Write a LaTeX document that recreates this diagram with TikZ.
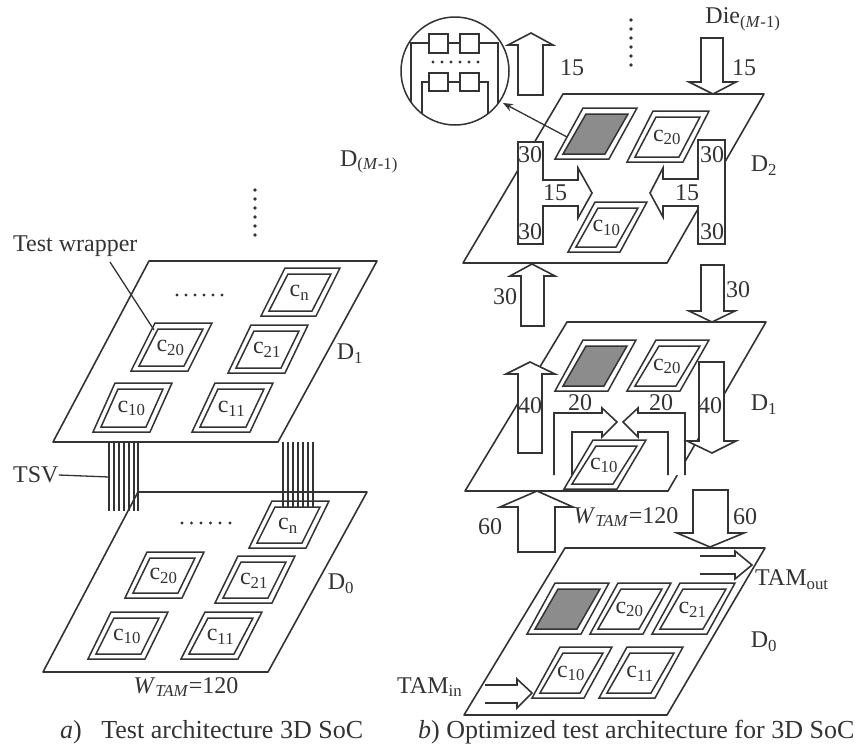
\documentclass[tikz,border=0pt]{standalone}
\usepackage{fontspec}
\setmainfont{Liberation Serif}
\usetikzlibrary{arrows.meta}
\definecolor{inkgray}{gray}{0.2}
\definecolor{corefill}{gray}{0.55}
\tikzset{
  lab/.style={inner sep=0pt,text=inkgray,font=\fontsize{24}{26}\selectfont},
  captext/.style={inner sep=0pt,text=inkgray,font=\fontsize{26}{28}\selectfont,anchor=west},
  chipline/.style={draw=inkgray,line width=1.5pt,line join=miter},
  plane/.style={draw=inkgray,line width=1.6pt,line join=round},
  block/.style={draw=inkgray,line width=1.6pt,fill=white,line join=miter},
  thin line/.style={draw=inkgray,line width=1.3pt},
  open block/.style={draw=inkgray,line width=1.6pt},
}
% fill, name, bottom left x, y, width, height, skew, label
\newcommand{\wrapchip}[8][white]{
  \draw[chipline,fill=white] (#3,#4)--++(#5,0)--++(#7,-#6)--++(-#5,0)--cycle;
  \draw[chipline,fill=#1] (#3+8,#4-5)--(#3+#5-4,#4-5)--(#3+#5+#7-9,#4-#6+6)--(#3+#7+3,#4-#6+6)--cycle;
  \node[lab] (#2) at (#3+#5/2+#7/2-1,#4-#6/2+1) {#8};
}
\begin{document}
\begin{tikzpicture}[x=1pt,y=-1pt]
\useasboundingbox (0,0) rectangle (865,747);

% left: upper die
\draw[plane] (149,261)--(377,261)--(278,442)--(53,442)--cycle;
\wrapchip{lcn}{261}{316}{55}{48}{24}{c\textsubscript{n}}
\wrapchip{lctwenty}{131}{371}{57}{48}{24}{c\textsubscript{20}}
\wrapchip{lctwentyone}{228}{373}{57}{48}{23}{c\textsubscript{21}}
\wrapchip{lcten}{93}{432}{57}{49}{22}{c\textsubscript{10}}
\wrapchip{lceleven}{192}{432}{58}{49}{23}{c\textsubscript{11}}
\foreach \x in {177,186,195,204,213,222} \fill[inkgray] (\x,295) circle (1.7);
\foreach \y in {190,199,208,217,226,235} \fill[inkgray] (255,\y) circle (1.8);

% left: lower die
\draw[plane] (138,492)--(367,492)--(268,672)--(43,672)--cycle;
\wrapchip{bcn}{249}{548}{57}{47}{23}{c\textsubscript{n}}
\wrapchip{bctwenty}{125}{598}{57}{46}{22}{c\textsubscript{20}}
\wrapchip{bctwentyone}{215}{603}{57}{47}{23}{c\textsubscript{21}}
\wrapchip{bcten}{88}{659}{57}{47}{23}{c\textsubscript{10}}
\wrapchip{bceleven}{181}{659}{57}{47}{24}{c\textsubscript{11}}
\foreach \x in {182,191.5,201,210.5,220,230} \fill[inkgray] (\x,523) circle (1.7);

% through silicon vias
\foreach \x in {109,114,119,124,129,134,138} \draw[thin line] (\x,442)--(\x,511);
\foreach \x in {283,288,293,298,303,308,313} \draw[thin line] (\x,442)--(\x,507);

\node[lab,anchor=west] (wrapper) at (13,246) {Test wrapper};
\coordinate (wrapperend) at (154,330);
\coordinate (wrapperstart) at (110,262);
\draw[thin line] (wrapperstart)--(wrapperend);
\node[lab,anchor=west] (tsv) at (13,475) {TSV};
\coordinate (tsvend) at (109,477);
\draw[thin line] (tsv.east)--(tsvend);
\node[lab] (dietop) at (369,162) {D\textsubscript{(\textit{M}-1)}};
\node[lab] (dleftone) at (350,354) {D\textsubscript{1}};
\node[lab] (dleftzero) at (341,584) {D\textsubscript{0}};
\node[lab] (wleft) at (186,687) {\textit{W}\textsubscript{\textit{TAM}}=120};
\node[captext] (capa) at (60,732) {\textit{a})\ \ \ Test architecture 3D SoC};

% right: die 2
\draw[plane] (563,94)--(764,94)--(667,263)--(463,263)--cycle;
\wrapchip[corefill]{gtwo}{555}{159}{54}{51}{28}{}
\wrapchip{twotwenty}{627}{162}{56}{51}{26}{c\textsubscript{20}}
\draw[block] (518,142)--(543,142)--(543,180)--(578,180)--(578,168)--(592,193)--(578,218)--(578,206)--(543,206)--(543,244)--(518,244)--cycle;
\draw[block] (725,140)--(698,140)--(698,179)--(663,179)--(663,168)--(650,193)--(663,217)--(663,206)--(698,206)--(698,244)--(725,244)--cycle;
\wrapchip{twoten}{568}{252}{52}{50}{27}{c\textsubscript{10}}
\node[lab] (lthirtya) at (530,155) {30};
\node[lab] (lthirtyb) at (530,232) {30};
\node[lab] (rthirtya) at (712,155) {30};
\node[lab] (rthirtyb) at (712,232) {30};
\node[lab] (lfifteen) at (555,193) {15};
\node[lab] (rfifteen) at (687,193) {15};

% magnified core
\node[circle,draw=inkgray,line width=1.5pt,minimum size=108pt,inner sep=0pt] (lens) at (455,71) {};
\foreach \x in {429,460} {
  \draw[open block] (\x,34) rectangle +(19,19);
  \draw[open block] (\x,73) rectangle +(19,18);
}
\draw[thin line] (411,102)--(411,43)--(429,43) (448,43)--(460,43) (479,43)--(498,43)--(498,104);
\draw[thin line] (422,114)--(422,82)--(429,82) (448,82)--(460,82) (479,82)--(488,82)--(488,114);
\foreach \x in {433,442,451,460,469,478} \fill[inkgray] (\x,62) circle (1.7);
\coordinate (corestart) at (567,137);
\coordinate (lensend) at (503,103);
\draw[thin line,-{Stealth[length=10pt,width=8pt]}] (corestart)--(lensend);

\draw[block] (518,95)--(518,45)--(508,45)--(531,33)--(553,45)--(543,45)--(543,95)--cycle;
\draw[block] (701,38)--(701,82)--(689,82)--(713,94)--(736,82)--(723,82)--(723,38)--cycle;
\foreach \y in {20,29,38,47,56,65} \fill[inkgray] (631,\y) circle (1.8);
\node[lab] (upfifteen) at (572,68) {15};
\node[lab] (downfifteen) at (744,68) {15};
\node[lab] (dieupper) at (743,19) {Die\textsubscript{(\textit{M}-1)}};
\node[lab] (dtwo) at (764,166) {D\textsubscript{2}};

% right: die 1
\draw[plane] (567,322)--(766,322)--(668,491)--(465,491)--cycle;
\fill[white] (554,475)--(554,413)--(602,413)--(602,408)--(617,422)--(602,437)--(602,432)--(572,432)--(572,475)--cycle;
\fill[white] (685,475)--(685,413)--(638,413)--(638,408)--(623,422)--(638,437)--(638,432)--(668,432)--(668,475)--cycle;
\draw[open block] (554,475)--(554,413)--(602,413)--(602,408)--(617,422)--(602,437)--(602,432)--(572,432)--(572,475);
\draw[open block] (685,475)--(685,413)--(638,413)--(638,408)--(623,422)--(638,437)--(638,432)--(668,432)--(668,475);
\wrapchip[corefill]{gone}{555}{391}{53}{51}{28}{}
\wrapchip{onetwenty}{627}{391}{53}{51}{29}{c\textsubscript{20}}
\wrapchip{oneten}{564}{489}{53}{49}{29}{c\textsubscript{10}}
\draw[block] (518,453)--(518,374)--(506,374)--(530,362)--(555,374)--(542,374)--(542,453)--cycle;
\draw[block] (699,362)--(699,441)--(687,441)--(712,453)--(736,441)--(724,441)--(724,362)--cycle;
\node[lab] (lforty) at (530,406) {40};
\node[lab] (rforty) at (710,406) {40};
\node[lab] (ltwenty) at (580,403) {20};
\node[lab] (rtwenty) at (661,403) {20};
\node[lab] (done) at (764,405) {D\textsubscript{1}};

% between die 2 and die 1
\draw[block] (521,326)--(521,276)--(510,276)--(532,264)--(555,276)--(544,276)--(544,326)--cycle;
\draw[block] (701,265)--(701,311)--(689,311)--(712,322)--(735,311)--(724,311)--(724,265)--cycle;
\node[lab] (upthirty) at (505,297) {30};
\node[lab] (downthirty) at (738,290) {30};

% right: die 0
\draw[plane] (565,548)--(765,548)--(667,715)--(464,715)--cycle;
\wrapchip[corefill]{gzero}{527}{634}{54}{51}{28}{}
\wrapchip{zerotwenty}{590}{634}{53}{51}{28}{c\textsubscript{20}}
\wrapchip{zerotwentyone}{652}{634}{55}{51}{28}{c\textsubscript{21}}
\wrapchip{zeroten}{532}{698}{52}{51}{28}{c\textsubscript{10}}
\wrapchip{zeroeleven}{599}{698}{56}{51}{28}{c\textsubscript{11}}
\fill[white] (700,556)--(735,556)--(735,551)--(752,565)--(735,579)--(735,574)--(700,574)--cycle;
\draw[open block] (700,556)--(735,556)--(735,551)--(752,565)--(735,579)--(735,574)--(700,574);
\fill[white] (485,685)--(517,685)--(517,679)--(532,693)--(517,708)--(517,703)--(485,703)--cycle;
\draw[open block] (485,685)--(517,685)--(517,679)--(532,693)--(517,708)--(517,703)--(485,703);

% between die 1 and die 0
\draw[block] (518,552)--(518,507)--(500,507)--(537,491)--(573,507)--(555,507)--(555,552)--cycle;
\draw[block] (693,490)--(693,533)--(677,533)--(710,547)--(744,533)--(728,533)--(728,490)--cycle;
\node[lab] (upsixty) at (490,527) {60};
\node[lab] (downsixty) at (745,517) {60};
\node[lab] (wright) at (626,517) {\textit{W}\textsubscript{\textit{TAM}}=120};
\node[lab,anchor=west] (tamout) at (755,580) {TAM\textsubscript{out}};
\node[lab,anchor=west] (tamin) at (397,687) {TAM\textsubscript{in}};
\node[lab] (dzero) at (764,642) {D\textsubscript{0}};
\node[captext] (capb) at (418,732) {\textit{b})\ Optimized test architecture for 3D SoC};
\end{tikzpicture}
\end{document}
